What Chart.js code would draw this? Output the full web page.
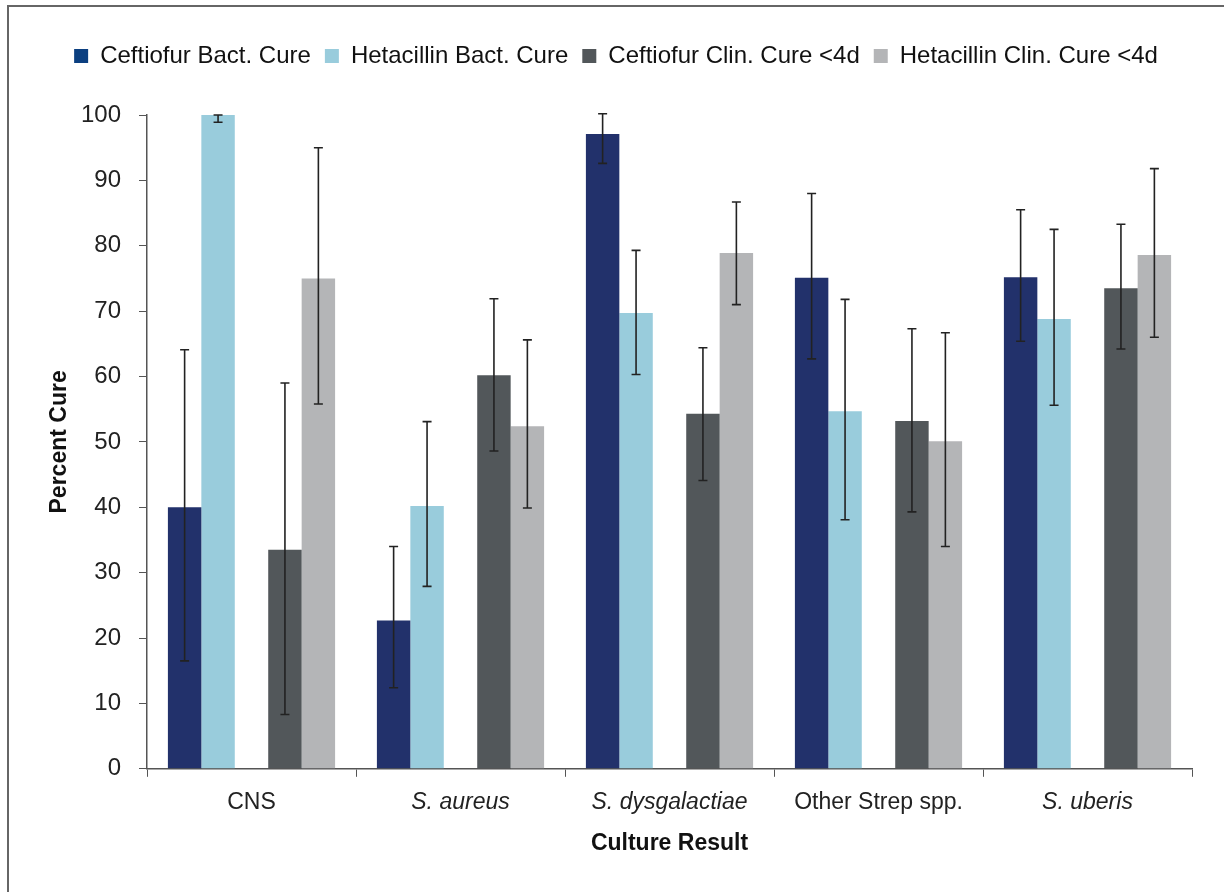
<!DOCTYPE html>
<html>
<head>
<meta charset="utf-8">
<script src="https://cdn.jsdelivr.net/npm/chart.js@4"></script>
<style>
    html, body { margin: 0; padding: 0; background: #fff; }
    #marco {
        position: absolute;
        left: 7px; top: 5px;
        width: 1217px; height: 887px;
        border-left: 2px solid #666;
        border-top: 2px solid #666;
    }
    #lienzo { position: absolute; left: 0; top: 0; }
</style>
</head>
<body>
<div id="marco"></div>
<canvas id="lienzo" width="1224" height="892"></canvas>
<script>
const categorias = ['CNS', 'S. aureus', 'S. dysgalactiae', 'Other Strep spp.', 'S. uberis'];
const cursivas = [false, true, true, false, true];

const ceftBact = [40, 22.7, 97.1, 75.1, 75.2];
const ceftBactBajo = [16.5, 12.4, 92.6, 62.7, 65.4];
const ceftBactAlto = [64.1, 34.0, 100.2, 88.0, 85.5];

const hetaBact = [100, 40.2, 69.7, 54.7, 68.8];
const hetaBactBajo = [98.9, 27.9, 60.3, 38.1, 55.6];
const hetaBactAlto = [100, 53.1, 79.3, 71.8, 82.5];

const ceftClin = [33.5, 60.2, 54.3, 53.2, 73.5];
const ceftClinBajo = [8.3, 48.6, 44.1, 39.3, 64.2];
const ceftClinAlto = [59.0, 71.9, 64.4, 67.3, 83.3];

const hetaClin = [75.0, 52.4, 78.9, 50.1, 78.6];
const hetaClinBajo = [55.8, 39.9, 71.0, 34.0, 66.0];
const hetaClinAlto = [95.0, 65.6, 86.7, 66.7, 91.8];

const marcasY = [0, 10, 20, 30, 40, 50, 60, 70, 80, 90, 100];

const fuente = '"Liberation Sans", Arial, Helvetica, sans-serif';

// barras de error dibujadas con las escalas del grafico
const barrasError = {
    id: 'barrasError',
    afterDatasetsDraw(chart) {
        const ctx = chart.ctx;
        const y = chart.scales.y;
        ctx.save();
        ctx.strokeStyle = '#222';
        ctx.lineWidth = 1.6;
        chart.data.datasets.forEach((ds, i) => {
            if (!ds.bajo) return;
            const meta = chart.getDatasetMeta(i);
            meta.data.forEach((barra, j) => {
                const x = barra.x;
                const y1 = y.getPixelForValue(ds.bajo[j]);
                const y2 = y.getPixelForValue(ds.alto[j]);
                ctx.beginPath();
                ctx.moveTo(x, y1); ctx.lineTo(x, y2);
                ctx.moveTo(x - 4.5, y1); ctx.lineTo(x + 4.5, y1);
                ctx.moveTo(x - 4.5, y2); ctx.lineTo(x + 4.5, y2);
                ctx.stroke();
            });
        });
        ctx.restore();
    }
};

// mas espacio debajo de la leyenda
const espacioLeyenda = {
    id: 'espacioLeyenda',
    beforeInit(chart) {
        const fitOriginal = chart.legend.fit;
        chart.legend.fit = function () {
            fitOriginal.bind(chart.legend)();
            this.height += 37;
        };
    }
};

const canvas = document.getElementById('lienzo');

new Chart(canvas, {
    type: 'bar',
    data: {
        labels: categorias,
        datasets: [
            { label: 'Ceftiofur Bact. Cure', data: ceftBact, bajo: ceftBactBajo, alto: ceftBactAlto, backgroundColor: '#22316B' },
            { label: 'Hetacillin Bact. Cure', data: hetaBact, bajo: hetaBactBajo, alto: hetaBactAlto, backgroundColor: '#99CCDC' },
            { label: '', data: [null, null, null, null, null], backgroundColor: 'rgba(0,0,0,0)' },
            { label: 'Ceftiofur Clin. Cure <4d', data: ceftClin, bajo: ceftClinBajo, alto: ceftClinAlto, backgroundColor: '#52575A' },
            { label: 'Hetacillin Clin. Cure <4d', data: hetaClin, bajo: hetaClinBajo, alto: hetaClinAlto, backgroundColor: '#B4B5B7' }
        ]
    },
    options: {
        responsive: false,
        animation: false,
        devicePixelRatio: 1,
        layout: { padding: { left: 40, right: 32, top: 30, bottom: 31 } },
        datasets: { bar: { barPercentage: 1, categoryPercentage: 0.8 } },
        scales: {
            x: {
                grid: { offset: true, drawOnChartArea: false, tickLength: 8, color: '#555' },
                border: { color: '#555', width: 1.5 },
                ticks: {
                    color: '#222',
                    padding: 12,
                    font: (c) => ({ family: fuente, size: 23, style: cursivas[c.index] ? 'italic' : 'normal' })
                },
                title: { display: true, text: 'Culture Result', color: '#111', font: { family: fuente, size: 23, weight: 'bold' }, padding: { top: 1 } }
            },
            y: {
                min: 0, max: 100,
                afterBuildTicks: (eje) => { eje.ticks = marcasY.map(v => ({ value: v })); },
                afterFit: (eje) => { eje.width = 107; },
                grid: { drawOnChartArea: false, tickLength: 8, color: '#555' },
                border: { color: '#555', width: 1.5 },
                ticks: { color: '#222', padding: 18, font: { family: fuente, size: 24 } },
                title: { display: true, text: 'Percent Cure', color: '#111', font: { family: fuente, size: 23, weight: 'bold' }, padding: { top: 6, bottom: 2 } }
            }
        },
        plugins: {
            legend: {
                position: 'top',
                labels: {
                    boxWidth: 14, boxHeight: 14, padding: 14, color: '#111',
                    font: { family: fuente, size: 24 },
                    filter: (item) => item.text !== '',
                    generateLabels: (chart) => {
                        const items = Chart.defaults.plugins.legend.labels.generateLabels(chart);
                        items.forEach(it => { it.lineWidth = 0; it.strokeStyle = 'rgba(0,0,0,0)'; });
                        if (items[0]) items[0].fillStyle = '#0B3F80';
                        return items;
                    }
                }
            },
            tooltip: { enabled: false }
        }
    },
    plugins: [barrasError, espacioLeyenda]
});
</script>
</body>
</html>
